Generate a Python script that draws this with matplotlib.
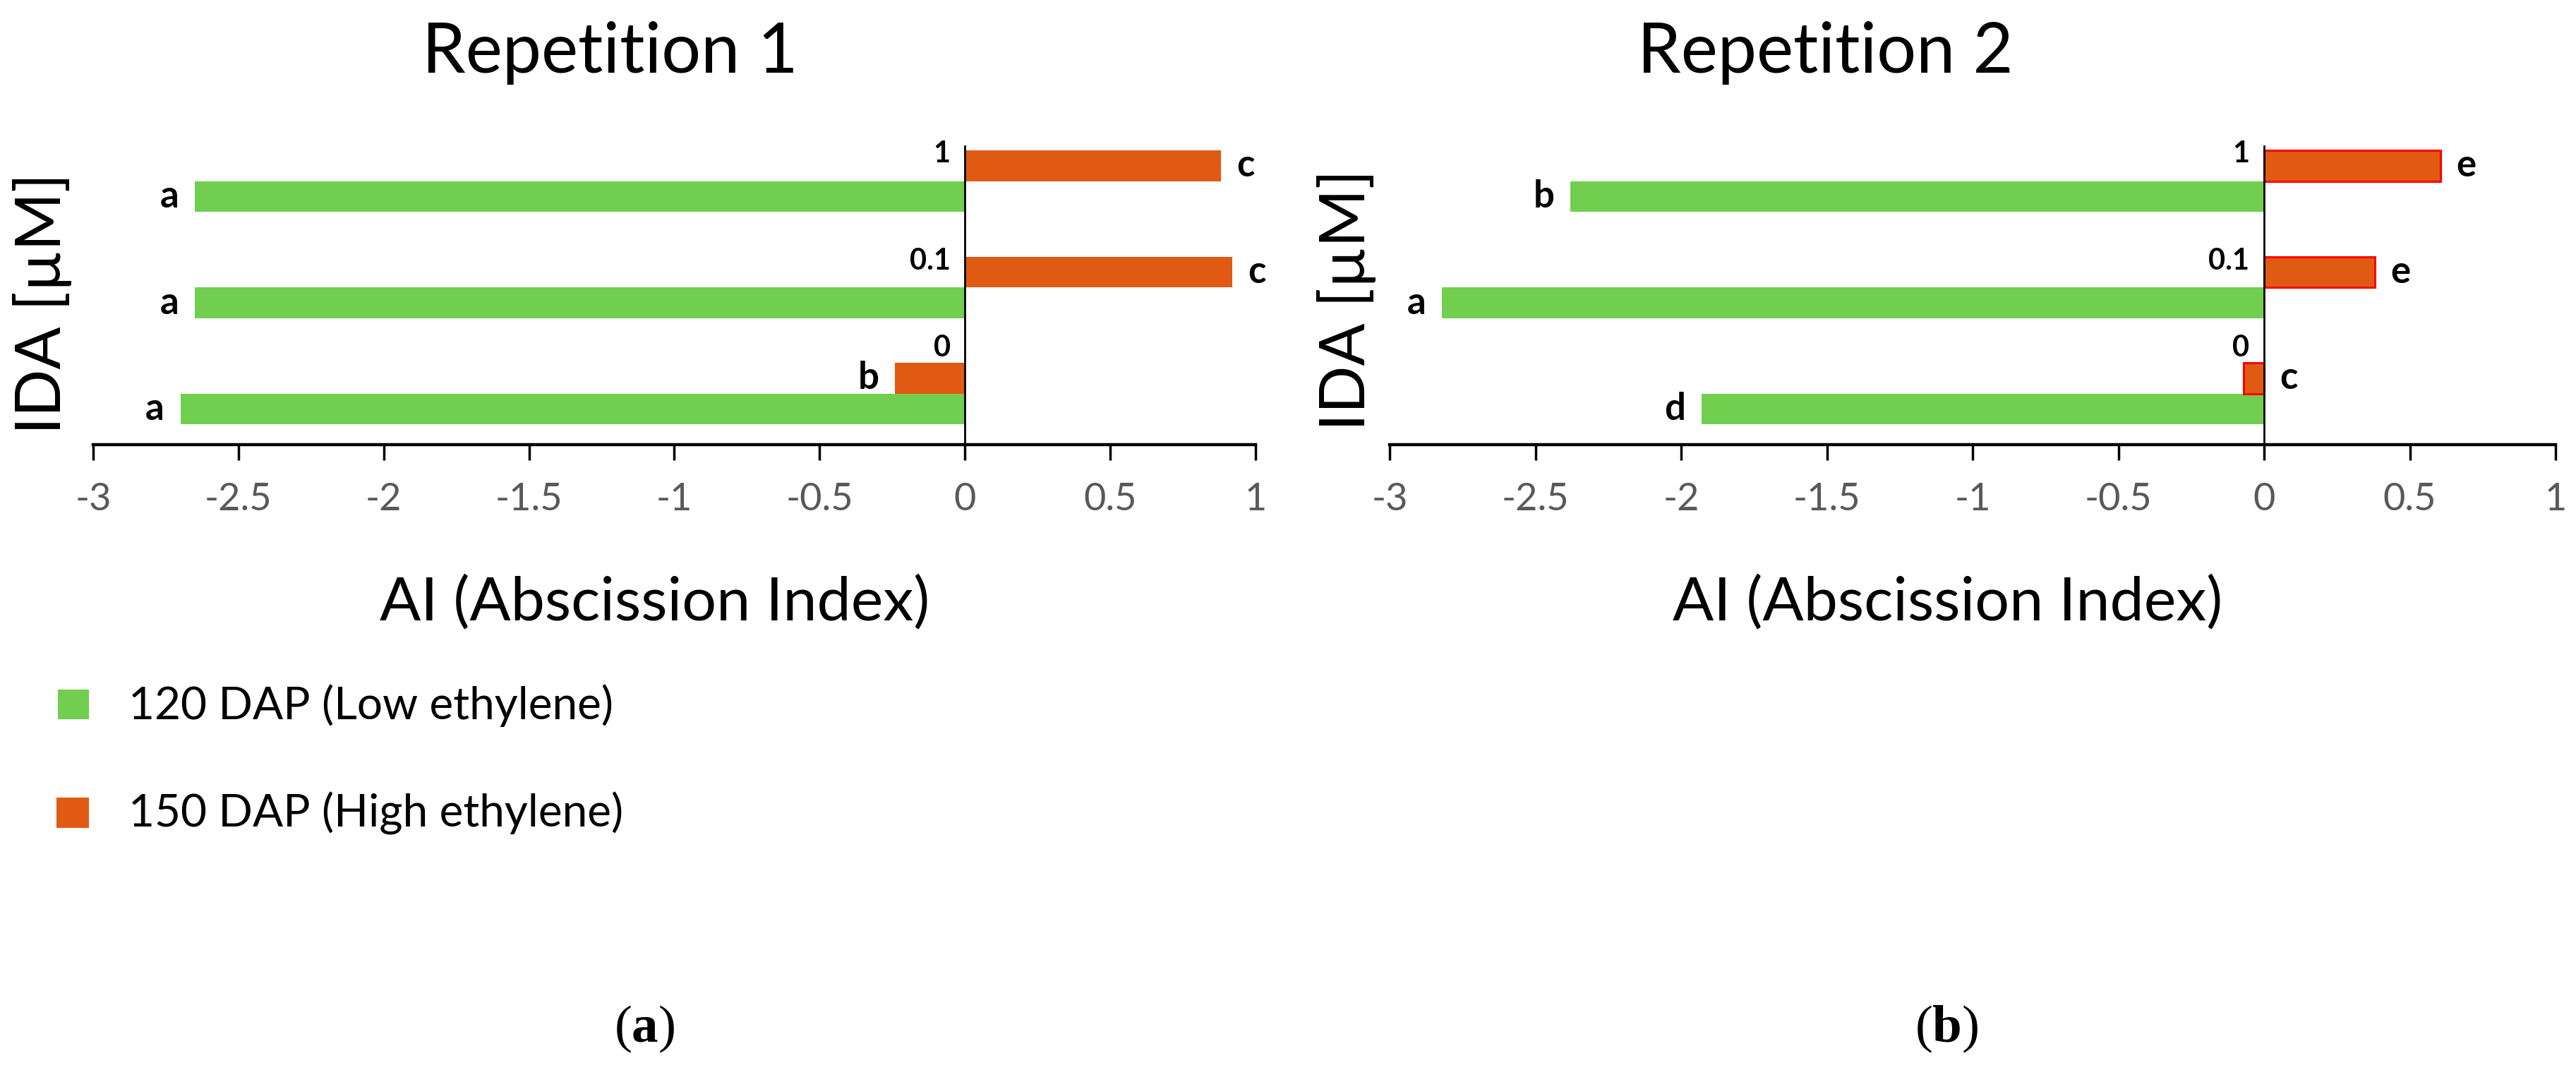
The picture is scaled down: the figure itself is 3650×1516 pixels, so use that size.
import matplotlib
matplotlib.use('Agg')
import matplotlib.pyplot as plt
from matplotlib.patches import Rectangle
import numpy as np

plt.rcParams['font.family'] = ['Lato', 'DejaVu Sans']
plt.rcParams['axes.unicode_minus'] = False
plt.rcParams['mathtext.fontset'] = 'custom'
plt.rcParams['mathtext.rm'] = 'Liberation Serif'
plt.rcParams['mathtext.bf'] = 'Liberation Serif:bold'

# IDA doses, bottom to top
doses = ['0', '0.1', '1']

# AI values
rep1_low = [-2.70, -2.65, -2.65]
rep1_high = [-0.24, 0.92, 0.88]
rep2_low = [-1.93, -2.82, -2.38]
rep2_high = [-0.07, 0.38, 0.605]

# significance letters
rep1_low_letters = ['a', 'a', 'a']
rep1_high_letters = ['b', 'c', 'c']
rep2_low_letters = ['d', 'a', 'b']
rep2_high_letters = ['c', 'e', 'e']

xticks = [-3, -2.5, -2, -1.5, -1, -0.5, 0, 0.5, 1]
xticklabels = ['-3', '-2.5', '-2', '-1.5', '-1', '-0.5', '0', '0.5', '1']

GREEN = '#72CE4F'
ORANGE = '#E05A14'
W, H = 3650, 1516

fig = plt.figure(figsize=(W / 100, H / 100), dpi=100)


def px(x, y):
    return x / W, 1 - y / H


def panel(left_px, width_px, low, high, low_let, high_let, edge, high_right):
    ax = fig.add_axes([left_px / W, 1 - 630 / H, width_px / W, 423 / H])
    y = np.arange(len(doses))
    bh = 0.29
    ax.barh(y - bh / 2, low, height=bh, color=GREEN, linewidth=0)
    if edge:
        ax.barh(y + bh / 2, high, height=bh, color=ORANGE, edgecolor=edge, linewidth=2.2)
    else:
        ax.barh(y + bh / 2, high, height=bh, color=ORANGE, linewidth=0)

    ax.set_xlim(-3, 1)
    ax.set_ylim(-0.48, 2.33)
    ax.set_xticks(xticks)
    ax.set_xticklabels(xticklabels)
    ax.set_yticks([])
    ax.tick_params(axis='x', direction='out', length=16, width=2.5, pad=22,
                   labelsize=39, labelcolor='#595959', color='black')
    for s in ['top', 'right']:
        ax.spines[s].set_visible(False)
    ax.spines['left'].set_position(('data', 0))
    ax.spines['left'].set_linewidth(2.0)
    ax.spines['bottom'].set_linewidth(3.2)

    gap = 0.055
    lab_dy = [0.43, 0.25, 0.26]
    for i in range(len(doses)):
        ax.text(-0.05, i + lab_dy[i], doses[i], ha='right', va='center',
                fontsize=30, fontweight='bold')
        ax.text(low[i] - gap, i - bh / 2, low_let[i], ha='right', va='center',
                fontsize=38, fontweight='bold')
        v = high[i]
        if v >= 0 or high_right:
            ax.text(max(v, 0) + gap, i + bh / 2, high_let[i], ha='left', va='center',
                    fontsize=38, fontweight='bold')
        else:
            ax.text(v - gap, i + bh / 2, high_let[i], ha='right', va='center',
                    fontsize=38, fontweight='bold')
    return ax


panel(132, 1647, rep1_low, rep1_high, rep1_low_letters, rep1_high_letters, None, False)
panel(1969, 1652, rep2_low, rep2_high, rep2_low_letters, rep2_high_letters, '#FF0000', True)

# titles and axis labels
fig.text(*px(864, 103), 'Repetition 1', ha='center', va='baseline', fontsize=71)
fig.text(*px(2586, 103), 'Repetition 2', ha='center', va='baseline', fontsize=71)
fig.text(*px(928, 878), 'AI (Abscission Index)', ha='center', va='baseline', fontsize=62)
fig.text(*px(2760, 878), 'AI (Abscission Index)', ha='center', va='baseline', fontsize=62)
fig.text(*px(60, 430), 'IDA [µM]', rotation=90, ha='center', va='center', fontsize=64)
fig.text(*px(1908, 425), 'IDA [µM]', rotation=90, ha='center', va='center', fontsize=64)

# legend
fig.add_artist(Rectangle(px(82, 1019), 44 / W, 42 / H, transform=fig.transFigure,
                         color=GREEN, linewidth=0))
fig.add_artist(Rectangle(px(80, 1173), 46 / W, 43 / H, transform=fig.transFigure,
                         color=ORANGE, linewidth=0))
fig.text(*px(182, 1000), '120 DAP (Low ethylene)', ha='left', va='center', fontsize=46)
fig.text(*px(182, 1152), '150 DAP (High ethylene)', ha='left', va='center', fontsize=46)

# panel tags
fig.text(*px(913, 1458), r'($\mathbf{a}$)', ha='center', va='center', fontsize=54,
         family='Liberation Serif')
fig.text(*px(2758, 1458), r'($\mathbf{b}$)', ha='center', va='center', fontsize=54,
         family='Liberation Serif')

fig.savefig('out.png', dpi=100)
